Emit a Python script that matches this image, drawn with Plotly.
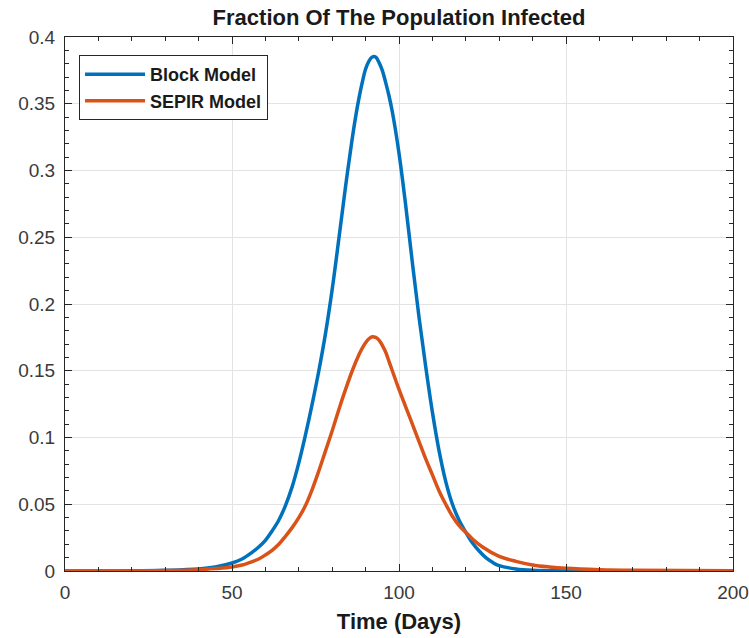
import plotly.graph_objects as go

# Days and fractions
block_days = [0, 10, 20, 30, 40, 45, 50, 53, 56, 58, 60, 62, 64, 66, 68, 70, 72, 74, 76, 78,
              80, 82, 84, 86, 87, 88, 89, 90, 91, 92, 93, 94, 95, 96, 97, 98, 100, 102, 104,
              106, 108, 110, 112, 114, 116, 118, 120, 122, 124, 126, 128, 130, 135, 140, 150,
              160, 200]
block_vals = [0.0, 0.0, 0.0001, 0.0005, 0.0015, 0.003, 0.006, 0.009, 0.014, 0.018, 0.023,
              0.030, 0.038, 0.049, 0.063, 0.081, 0.102, 0.125, 0.150, 0.178, 0.211, 0.249,
              0.288, 0.324, 0.340, 0.354, 0.366, 0.376, 0.382, 0.385, 0.385, 0.381, 0.375,
              0.366, 0.356, 0.344, 0.313, 0.274, 0.231, 0.190, 0.153, 0.119, 0.090, 0.067,
              0.050, 0.038, 0.029, 0.021, 0.015, 0.010, 0.0065, 0.004, 0.0015, 0.0005,
              0.0001, 0.0, 0.0]

sepir_days = [0, 20, 30, 40, 45, 50, 53, 56, 58, 60, 62, 64, 66, 68, 70, 72, 74, 76, 78, 80,
              82, 84, 86, 88, 89, 90, 91, 92, 93, 94, 95, 96, 97, 98, 100, 102, 104, 106, 108,
              110, 112, 114, 116, 118, 120, 122, 125, 130, 135, 140, 145, 150, 160, 170, 200]
sepir_vals = [0.0, 0.0, 0.0003, 0.001, 0.0018, 0.003, 0.0045, 0.007, 0.009, 0.012, 0.0155,
              0.020, 0.026, 0.0325, 0.040, 0.049, 0.061, 0.075, 0.090, 0.105, 0.121, 0.136,
              0.150, 0.162, 0.167, 0.171, 0.174, 0.1755, 0.175, 0.173, 0.169, 0.164, 0.157,
              0.150, 0.136, 0.123, 0.110, 0.097, 0.084, 0.072, 0.060, 0.050, 0.041, 0.034,
              0.029, 0.024, 0.018, 0.011, 0.0072, 0.0045, 0.003, 0.002, 0.001, 0.0005, 0.0001]

x_ticks = [0, 50, 100, 150, 200]
y_ticks = [0, 0.05, 0.1, 0.15, 0.2, 0.25, 0.3, 0.35, 0.4]
y_labels = ["0", "0.05", "0.1", "0.15", "0.2", "0.25", "0.3", "0.35", "0.4"]

BLUE = "#0072BD"
ORANGE = "#D95319"
FONT = "Liberation Sans, Arial, Helvetica, sans-serif"
AX = "#262626"

fig = go.Figure()
fig.add_trace(go.Scatter(x=block_days, y=block_vals, mode="lines", name="<b>Block Model</b>",
                         line=dict(color=BLUE, width=3.5, shape="spline", smoothing=1.0)))
fig.add_trace(go.Scatter(x=sepir_days, y=sepir_vals, mode="lines", name="<b>SEPIR Model</b>",
                         line=dict(color=ORANGE, width=3.5, shape="spline", smoothing=1.0)))

axis_common = dict(
    showline=True, linecolor=AX, linewidth=1, mirror="ticks",
    ticks="inside", ticklen=7, tickcolor=AX,
    showgrid=True, gridcolor="#e3e3e3", gridwidth=1,
    zeroline=False,
    tickfont=dict(family=FONT, size=19, color="#3a3a3a"),
)

fig.update_xaxes(range=[0, 200], tickvals=x_ticks, ticklabelstandoff=4, automargin=False,
                 minor=dict(dtick=10, ticks="inside", ticklen=4, tickcolor=AX, showgrid=False),
                 title=dict(text="<b>Time (Days)</b>", font=dict(family=FONT, size=22, color="#1a1a1a"),
                            standoff=11),
                 **axis_common)
fig.update_yaxes(range=[0, 0.4], tickvals=y_ticks, ticktext=y_labels, ticklabelstandoff=5,
                 automargin=False,
                 minor=dict(dtick=0.01, ticks="inside", ticklen=4, tickcolor=AX, showgrid=False),
                 **axis_common)

fig.update_layout(
    width=749, height=638,
    margin=dict(l=65, r=16, t=37, b=67),
    paper_bgcolor="white", plot_bgcolor="white",
    title=dict(text="<b>Fraction Of The Population Infected</b>",
               font=dict(family=FONT, size=22, color="#1a1a1a"),
               x=0.5 + (65 - 16) / 2 / 749, xanchor="center", y=1 - 17 / 638, yanchor="middle"),
    legend=dict(x=0.021, y=0.966, xanchor="left", yanchor="top",
                bgcolor="white", bordercolor=AX, borderwidth=1,
                font=dict(family=FONT, size=18, color="#1a1a1a"),
                itemwidth=60, tracegroupgap=0),
    showlegend=True,
)

fig.write_html("out.html")
